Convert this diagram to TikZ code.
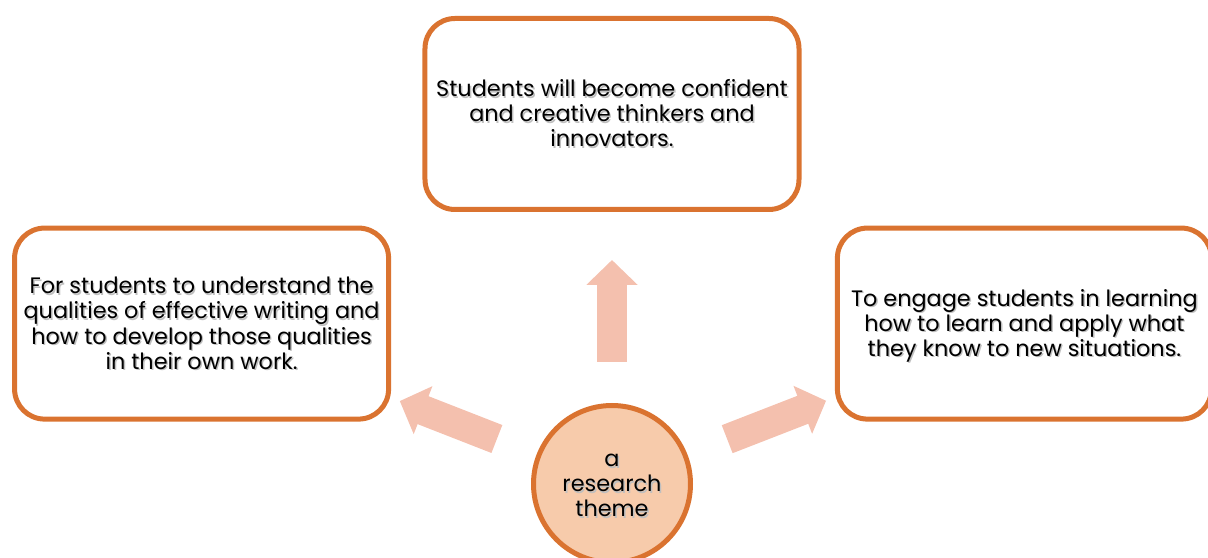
\documentclass[tikz,border=0pt]{standalone}
\usepackage{fontspec}
\setmainfont{Poppins}
\usepackage{xcolor}
\usetikzlibrary{arrows.meta,positioning}

\definecolor{themeorange}{RGB}{218,115,48}
\definecolor{themefill}{RGB}{247,203,171}
\definecolor{flowpink}{RGB}{244,192,174}

% text with a soft grey drop shadow behind it
\newcommand{\shadowed}[1]{%
  \raisebox{-0.09cm}[\height][\depth]{%
  \rlap{\raisebox{-0.035cm}{\kern0.035cm\color{black!25}\begin{tabular}{@{}c@{}}#1\end{tabular}}}%
  \begin{tabular}{@{}c@{}}#1\end{tabular}}}

\begin{document}
\begin{tikzpicture}[
    box/.style={draw=themeorange, line width=0.125cm, rounded corners=0.75cm, minimum width=9.35cm, minimum height=4.775cm, inner sep=0pt, font=\fontsize{15.9pt}{17.8pt}\selectfont},
    theme/.style={circle, draw=themeorange, fill=themefill, line width=0.125cm, minimum size=3.925cm, inner sep=0pt, font=\fontsize{15.9pt}{17.8pt}\selectfont},
    flow/.style={flowpink, line width=0.75cm, -{Triangle[length=0.625cm, width=1.25cm]}}
  ]
    \useasboundingbox (-15.3,-1.85) rectangle (14.9,12.1);

    \node[theme] (hub) at (0,0) {\shadowed{a\\research\\theme}};
    \node[box, above=4.775cm of hub] (thinkers) {\shadowed{Students will become confident\\and creative thinkers and\\innovators.}};
    \node[box] (writing) at (-10.26,4.01) {\shadowed{For students to understand the\\qualities of effective writing and\\how to develop those qualities\\in their own work.}};
    \node[box] (learning) at (10.31,4.01) {\shadowed{To engage students in learning\\how to learn and apply what\\they know to new situations.}};

    \draw[flow, shorten <=3.05cm, shorten >=3.65cm] (hub.center) -- (thinkers.center);
    \draw[flow, shorten <=3.09cm, shorten >=5.32cm] (hub.center) -- (writing.center);
    \draw[flow, shorten <=3.09cm, shorten >=5.32cm] (hub.center) -- (learning.center);
  \end{tikzpicture}
\end{document}
